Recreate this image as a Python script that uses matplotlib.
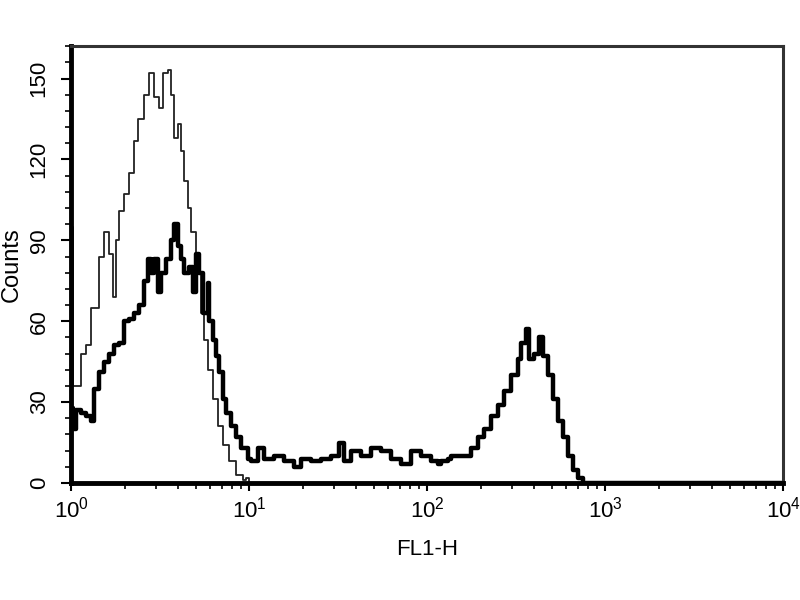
import numpy as np
import matplotlib
matplotlib.use("Agg")
import matplotlib.pyplot as plt
from matplotlib.ticker import MultipleLocator, LogLocator, NullFormatter

plt.rcParams['font.family'] = ['Liberation Sans', 'DejaVu Sans']
plt.rcParams['mathtext.fontset'] = 'custom'
plt.rcParams['mathtext.rm'] = 'Liberation Sans'

# control (thin line) - FL1-H channel value and counts
control_x = [1.0, 1.03, 1.14, 1.21, 1.30, 1.44, 1.53, 1.63, 1.72, 1.79,
             1.86, 1.99, 2.12, 2.26, 2.38, 2.57, 2.74, 2.93, 3.12, 3.29,
             3.51, 3.65, 3.79, 3.99, 4.15, 4.31, 4.54, 4.72, 5.04, 5.37,
             5.59, 5.89, 6.28, 6.70, 7.14, 7.72, 8.45, 9.25, 9.6, 10.0, 10000]
control_counts = [95, 36, 48, 51, 65, 84, 93, 85, 69, 90,
                  101, 107, 115, 127, 135, 144, 152, 143, 139, 152,
                  153, 144, 128, 133, 123, 112, 102, 93, 78, 63,
                  53, 42, 31, 21, 14, 8, 3, 1, 2, 0, 0]

# stained sample (thick line)
sample_x = [1.0, 1.03, 1.07, 1.14, 1.21, 1.30, 1.35, 1.44, 1.53, 1.63,
            1.74, 1.86, 1.99, 2.12, 2.26, 2.41, 2.57, 2.71, 2.81, 2.93,
            3.08, 3.20, 3.42, 3.65, 3.79, 3.99, 4.15, 4.31, 4.60, 4.85,
            5.04, 5.24, 5.52, 5.89, 5.96, 6.28, 6.53, 6.78, 7.14, 7.42,
            7.93, 8.45, 9.02, 9.87,
            10.3, 11.2, 12.1, 13.8, 15.7, 17.9, 19.6, 22.3, 25.4, 28.9,
            32.0, 34.2, 37.4, 42.6, 48.4, 55.2, 62.8, 71.4, 81.3, 92.5,
            105, 115, 120, 131, 136, 149, 155, 177, 194, 209,
            229, 251, 271, 297, 325, 338, 360, 374, 399, 426,
            449, 479, 510, 545, 581, 620, 661, 705, 752, 10000]
sample_counts = [28, 20, 27, 26, 25, 23, 35, 41, 45, 48,
                 51, 52, 60, 61, 63, 66, 75, 83, 78, 83,
                 71, 78, 83, 90, 96, 88, 83, 78, 80, 71,
                 85, 78, 63, 74, 60, 53, 47, 41, 31, 26,
                 21, 17, 13, 9,
                 8, 13, 9, 10, 8, 6, 9, 8, 9, 10,
                 15, 8, 12, 10, 13, 12, 9, 7, 12, 10,
                 8, 7, 8, 9, 10, 10, 10, 13, 17, 20,
                 25, 29, 34, 40, 46, 52, 57, 46, 48, 54,
                 47, 40, 31, 23, 17, 10, 5, 2, 0, 0]

y_ticks = [0, 30, 60, 90, 120, 150]
x_ticks = [1, 10, 100, 1000, 10000]
x_labels = [r'$10^{0}$', r'$10^{1}$', r'$10^{2}$', r'$10^{3}$', r'$10^{4}$']

fig = plt.figure(figsize=(8, 6), dpi=100)
ax = fig.add_axes([0.089, 0.195, 0.89, 0.728])

ax.step(control_x, control_counts, where='post', color='#222222', linewidth=1.3)
ax.step(sample_x, sample_counts, where='post', color='black', linewidth=3.2)

ax.set_xscale('log')
ax.set_xlim(1, 10000)
ax.set_ylim(0, 162)

ax.set_xticks(x_ticks)
ax.set_xticklabels(x_labels, fontsize=16)
ax.xaxis.set_minor_locator(LogLocator(base=10, subs=np.arange(2, 10)))
ax.xaxis.set_minor_formatter(NullFormatter())

ax.set_yticks(y_ticks)
ax.yaxis.set_minor_locator(MultipleLocator(6))
for lab in ax.get_yticklabels():
    lab.set_rotation(90)
    lab.set_va('center')
    lab.set_fontsize(16)

ax.tick_params(axis='x', which='major', direction='out', length=6, width=1.5, pad=4)
ax.tick_params(axis='x', which='minor', direction='out', length=4, width=1.2)
ax.tick_params(axis='y', which='major', direction='out', length=7.5, width=1.5, pad=8)
ax.tick_params(axis='y', which='minor', direction='out', length=4.5, width=1.2)

ax.spines['left'].set_linewidth(3.5)
ax.spines['bottom'].set_linewidth(3.5)
ax.spines['top'].set_linewidth(2.2)
ax.spines['right'].set_linewidth(2.2)
ax.spines['top'].set_color('#333333')
ax.spines['right'].set_color('#333333')

ax.set_xlabel('FL1-H', fontsize=16, labelpad=12)
ax.set_ylabel('Counts', fontsize=17, labelpad=4)

fig.savefig('out.png', dpi=100)
